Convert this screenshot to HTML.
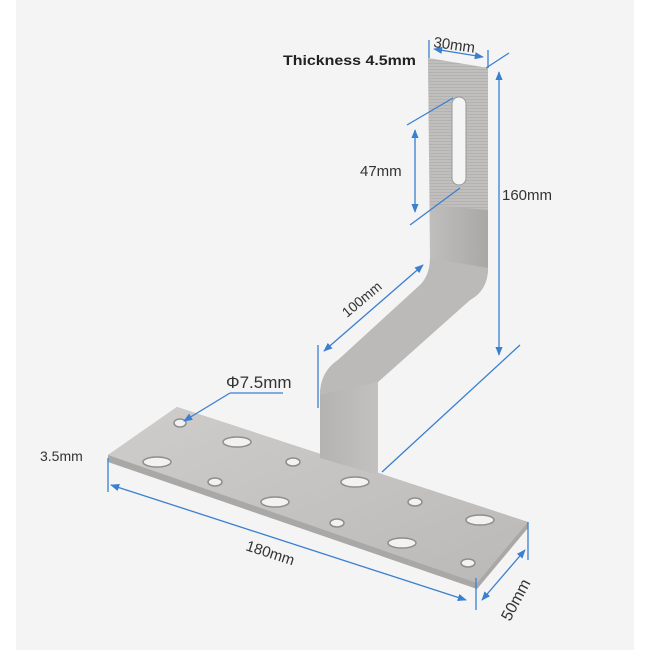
<!DOCTYPE html>
<html><head><meta charset="utf-8"><style>
html,body{margin:0;padding:0;background:#fff;}
svg{display:block;}
text{font-family:"Liberation Sans",sans-serif;fill:#333;}
</style></head><body>
<svg width="650" height="650" viewBox="0 0 650 650">
<defs>
<marker id="a" viewBox="0 0 10 10" refX="9" refY="5" markerWidth="7" markerHeight="7" orient="auto-start-reverse"><path d="M0,1 L10,5 L0,9 z" fill="#3a7fd0"/></marker>
<linearGradient id="g1" x1="0" y1="0" x2="1" y2="0"><stop offset="0" stop-color="#b4b3b1"/><stop offset="0.5" stop-color="#c9c8c6"/><stop offset="1" stop-color="#a9a8a6"/></linearGradient>
<linearGradient id="g2" x1="0" y1="0" x2="1" y2="1"><stop offset="0" stop-color="#cecdcb"/><stop offset="1" stop-color="#bab9b7"/></linearGradient>
<pattern id="rib" width="4" height="3" patternUnits="userSpaceOnUse"><rect width="4" height="3" fill="#c0bfbd"/><rect width="4" height="1" fill="#b3b2b0"/></pattern>
</defs>
<rect x="16" y="0" width="618" height="650" fill="#f4f4f4"/>
<!-- base plate -->
<polygon points="177,407 528,522 528,528 477,589 108,462 108,455" fill="#a9a8a6"/>
<polygon points="177,407 528,522 477,583 108,455" fill="url(#g2)"/>
<!-- bracket -->
<path d="M428,58 L488,68 L488,268 Q488,290 470,300 L378,382 L378,475 L320,458 L320,395 Q320,372 338,360 L420,285 Q430,275 430,258 Z" fill="url(#g1)"/>
<path d="M428,58 L488,68 L488,210 L430,205 Z" fill="url(#rib)"/>
<path d="M488,268 Q488,290 470,300 L378,382 L320,395 Q320,372 338,360 L420,285 Q430,275 430,258 Z" fill="#bbbab8"/>
<rect x="452" y="97" width="14" height="88" rx="7" fill="#f4f4f4" stroke="#999" stroke-width="1"/>
<!-- holes -->
<g fill="#f2f2f2" stroke="#8e8d8b" stroke-width="1.5">
<ellipse cx="180" cy="423" rx="6" ry="4"/>
<ellipse cx="237" cy="442" rx="14" ry="5"/>
<ellipse cx="157" cy="462" rx="14" ry="5"/>
<ellipse cx="293" cy="462" rx="7" ry="4"/>
<ellipse cx="215" cy="482" rx="7" ry="4"/>
<ellipse cx="275" cy="502" rx="14" ry="5"/>
<ellipse cx="355" cy="482" rx="14" ry="5"/>
<ellipse cx="415" cy="502" rx="7" ry="4"/>
<ellipse cx="337" cy="523" rx="7" ry="4"/>
<ellipse cx="480" cy="520" rx="14" ry="5"/>
<ellipse cx="402" cy="543" rx="14" ry="5"/>
<ellipse cx="468" cy="563" rx="7" ry="4"/>
</g>
<!-- dimension lines -->
<g stroke="#3a7fd0" stroke-width="1.3" fill="none">
<line x1="111" y1="485" x2="466" y2="600" marker-start="url(#a)" marker-end="url(#a)"/>
<line x1="108" y1="458" x2="108" y2="492"/>
<line x1="476" y1="578" x2="476" y2="610"/>
<line x1="482" y1="600" x2="525" y2="550" marker-start="url(#a)" marker-end="url(#a)"/>
<line x1="528" y1="522" x2="528" y2="560"/>
<line x1="230" y1="393" x2="283" y2="393"/>
<line x1="230" y1="393" x2="184" y2="421" marker-end="url(#a)"/>
<line x1="423" y1="265" x2="324" y2="351" marker-start="url(#a)" marker-end="url(#a)"/>
<line x1="318" y1="345" x2="318" y2="408"/>
<line x1="499" y1="72" x2="499" y2="355" marker-start="url(#a)" marker-end="url(#a)"/>
<line x1="486" y1="68" x2="509" y2="53"/>
<line x1="382" y1="472" x2="520" y2="345"/>
<line x1="434" y1="49" x2="483" y2="57" marker-start="url(#a)" marker-end="url(#a)"/>
<line x1="429" y1="40" x2="429" y2="58"/>
<line x1="488" y1="50" x2="488" y2="68"/>
<line x1="415" y1="130" x2="415" y2="212" marker-start="url(#a)" marker-end="url(#a)"/>
<line x1="407" y1="125" x2="453" y2="98"/>
<line x1="410" y1="225" x2="460" y2="188"/>
</g>
<g font-size="14">
<text x="283" y="65" font-size="14" font-weight="bold" style="fill:#222" textLength="133" lengthAdjust="spacingAndGlyphs">Thickness 4.5mm</text>
<text x="433" y="47" font-size="15" transform="rotate(8 433 47)">30mm</text>
<text x="360" y="176" font-size="15">47mm</text>
<text x="502" y="200" font-size="15">160mm</text>
<text x="347" y="318" transform="rotate(-40 347 318)">100mm</text>
<text x="226" y="388" font-size="17">Φ7.5mm</text>
<text x="40" y="461">3.5mm</text>
<text x="245" y="550" font-size="15" transform="rotate(18 245 550)">180mm</text>
<text x="510" y="622" font-size="16" transform="rotate(-62 510 622)">50mm</text>
</g>
</svg>
</body></html>
